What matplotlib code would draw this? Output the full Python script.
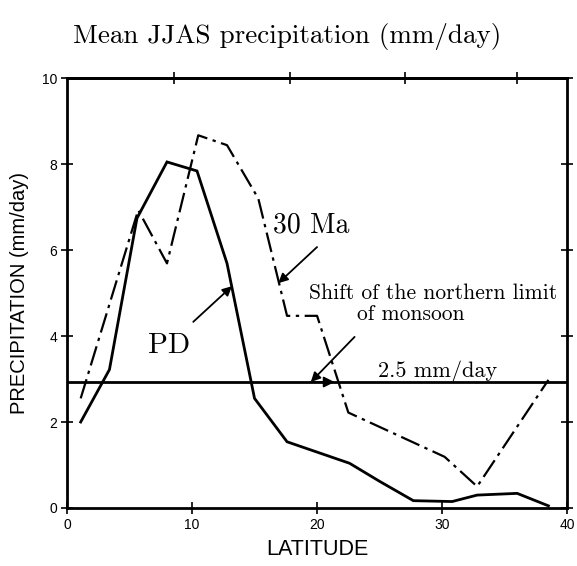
import matplotlib.pyplot as plt

# latitude (deg N) and mean JJAS precipitation (mm/day)
lat_pd = [1.1, 3.4, 5.6, 8.0, 10.4, 12.8, 15.0, 17.6, 22.6, 25.0, 27.7, 30.8, 32.8, 36.0, 38.5]
pr_pd = [2.0, 3.22, 6.74, 8.05, 7.84, 5.69, 2.55, 1.54, 1.04, 0.62, 0.17, 0.15, 0.30, 0.34, 0.05]

lat_30ma = [1.1, 5.7, 8.0, 10.5, 12.8, 15.3, 17.6, 20.0, 22.5, 30.2, 32.8, 38.5]
pr_30ma = [2.55, 6.93, 5.69, 8.67, 8.44, 7.2, 4.47, 4.47, 2.22, 1.19, 0.5, 2.98]

threshold = 2.93
x_ticks = [0, 10, 20, 30, 40]
y_ticks = [0, 2, 4, 6, 8, 10]
top_ticks = [8.6, 17.8, 27.0, 36.0]

serif = 'cmr10'
sans = ['Liberation Sans', 'DejaVu Sans']

fig = plt.figure(figsize=(5.77, 5.66), dpi=100)
ax = fig.add_axes([0.116, 0.1025, 0.867, 0.7595])

# threshold line
ax.axhline(threshold, color='black', lw=2.0)

# model curves
ax.plot(lat_pd, pr_pd, color='black', lw=2.0, solid_joinstyle='miter')
ax.plot(lat_30ma, pr_30ma, color='black', lw=1.6, linestyle=(0, (9, 2.5, 1.5, 2.5)))

ax.set_xlim(0, 40)
ax.set_ylim(0, 10)
ax.set_xticks(x_ticks)
ax.set_yticks(y_ticks)

for s in ax.spines.values():
    s.set_linewidth(2.0)

ax.tick_params(direction='inout', length=8, width=1.2, labelsize=10, pad=3)
ax.tick_params(axis='y', right=True)
for lab in ax.get_xticklabels() + ax.get_yticklabels():
    lab.set_family(sans)

top = ax.secondary_xaxis('top')
top.set_ticks(top_ticks)
top.tick_params(direction='inout', length=8, width=1.2, labelsize=0)
top.set_xticklabels([])
top.spines['top'].set_linewidth(2.0)

ax.set_xlabel('LATITUDE', family=sans, fontsize=15.5, labelpad=5)
ax.set_ylabel('PRECIPITATION (mm/day)', family=sans, fontsize=14.5, labelpad=9)

fig.text(0.497, 0.935, 'Mean JJAS precipitation (mm/day)', family=serif, fontsize=19.5,
         ha='center', va='center')

# annotations
ax.text(16.5, 6.42, '30 Ma', family=serif, fontsize=20, ha='left', va='baseline')
ax.text(6.5, 3.6, 'PD', family=serif, fontsize=21, ha='left', va='baseline')
ax.text(29.3, 4.85, 'Shift of the northern limit', family=serif, fontsize=15.5,
        ha='center', va='baseline')
ax.text(27.5, 4.38, 'of monsoon', family=serif, fontsize=15.5, ha='center', va='baseline')
ax.text(29.6, 3.05, '2.5 mm/day', family=serif, fontsize=16, ha='center', va='baseline')

arrow = dict(arrowstyle='-|>', color='black', lw=1.3, mutation_scale=14, shrinkA=0, shrinkB=0)
ax.annotate('', xy=(16.9, 5.23), xytext=(20.0, 6.07), arrowprops=arrow)
ax.annotate('', xy=(13.2, 5.16), xytext=(10.1, 4.33), arrowprops=arrow)
ax.annotate('', xy=(19.5, threshold), xytext=(23.0, 3.98), arrowprops=arrow)
ax.annotate('', xy=(21.4, threshold), xytext=(19.5, threshold),
            arrowprops=dict(arrowstyle='-|>', color='black', lw=1.3, mutation_scale=16,
                            shrinkA=0, shrinkB=0))

fig.savefig('out.png', dpi=100)
